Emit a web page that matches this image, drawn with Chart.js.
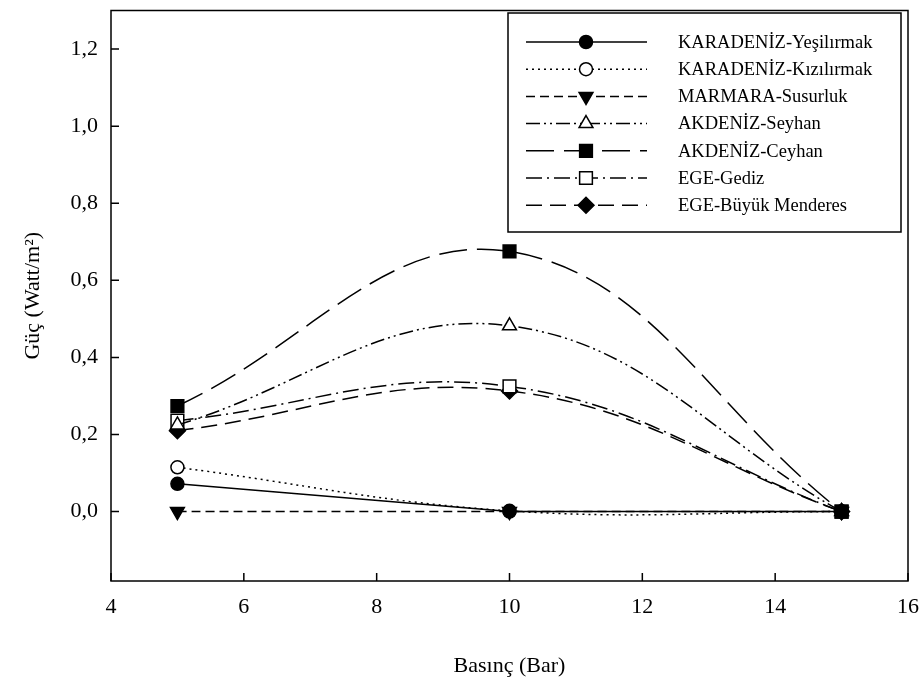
<!DOCTYPE html>
<html>
<head>
<meta charset="utf-8">
<script src="https://cdn.jsdelivr.net/npm/chart.js@4/dist/chart.umd.min.js"></script>
<style>
  body { margin: 0; background: #fff; }
  #wrap { width: 923px; height: 684px; }
</style>
</head>
<body>
<div id="wrap"><canvas id="grafico" width="923" height="684"></canvas></div>
<script>
// basinc (bar) ve guc degerleri
const basinc = [5, 10, 15]
const seriesNames = [
  "KARADENİZ-Yeşilırmak",
  "KARADENİZ-Kızılırmak",
  "MARMARA-Susurluk",
  "AKDENİZ-Seyhan",
  "AKDENİZ-Ceyhan",
  "EGE-Gediz",
  "EGE-Büyük Menderes"
]
const yesilirmak = [0.072, 0, 0]
const kizilirmak = [0.115, 0.002, 0]
const susurluk = [0, 0, 0]
const seyhan = [0.225, 0.482, 0]
const ceyhan = [0.274, 0.675, 0]
const gediz = [0.236, 0.325, 0]
const buyukMenderes = [0.21, 0.313, 0]
const xTicks = [4, 6, 8, 10, 12, 14, 16]
const yTicks = [0, 0.2, 0.4, 0.6, 0.8, 1.0, 1.2]

const serif = "'Liberation Serif', 'Times New Roman', serif"
Chart.defaults.font.family = serif
Chart.defaults.font.size = 22
Chart.defaults.color = '#000'

const pts = (arr) => basinc.map((x, i) => ({ x: x, y: arr[i] }))

function serie(label, values, dash, style, rotation, fill, radius, tension) {
  return {
    label: label,
    data: pts(values),
    borderColor: '#000',
    borderWidth: 1.5,
    borderDash: dash,
    tension: tension,
    pointStyle: style,
    pointRotation: rotation,
    pointRadius: radius,
    pointHoverRadius: radius,
    pointBackgroundColor: fill,
    pointBorderColor: '#000',
    pointBorderWidth: 1.5
  }
}

const datasets = [
  serie(seriesNames[0], yesilirmak, [], 'circle', 0, '#000', 6.5, 0),
  serie(seriesNames[1], kizilirmak, [2, 4], 'circle', 0, '#fff', 6.5, 0.4),
  serie(seriesNames[2], susurluk, [9, 5], 'triangle', 180, '#000', 8, 0.4),
  serie(seriesNames[3], seyhan, [14, 4, 2, 4, 2, 4], 'triangle', 0, '#fff', 8, 0.4),
  serie(seriesNames[4], ceyhan, [28, 10], 'rect', 0, '#000', 9, 0.4),
  serie(seriesNames[5], gediz, [16, 5, 2, 5], 'rect', 0, '#fff', 9, 0.4),
  serie(seriesNames[6], buyukMenderes, [16, 8], 'rectRot', 0, '#000', 8, 0.4)
]

// cerceve + iceri bakan tikler
const framePlugin = {
  id: 'frame',
  afterDraw(chart) {
    const { ctx, chartArea: a, scales } = chart
    ctx.save()
    ctx.strokeStyle = '#000'
    ctx.lineWidth = 1.5
    ctx.setLineDash([])
    ctx.strokeRect(a.left, a.top, a.right - a.left, a.bottom - a.top)
    ctx.beginPath()
    scales.x.ticks.forEach(t => {
      const px = scales.x.getPixelForValue(t.value)
      ctx.moveTo(px, a.bottom)
      ctx.lineTo(px, a.bottom - 8)
    })
    scales.y.ticks.forEach(t => {
      const py = scales.y.getPixelForValue(t.value)
      ctx.moveTo(a.left, py)
      ctx.lineTo(a.left + 8, py)
    })
    ctx.stroke()
    ctx.restore()
  }
}

// kutulu lejant
const legendPlugin = {
  id: 'kutuLejant',
  afterDraw(chart) {
    const ctx = chart.ctx
    const box = { x: 508, y: 13, w: 393, h: 219 }
    ctx.save()
    ctx.fillStyle = '#fff'
    ctx.fillRect(box.x, box.y, box.w, box.h)
    ctx.strokeStyle = '#000'
    ctx.lineWidth = 1.5
    ctx.strokeRect(box.x, box.y, box.w, box.h)
    chart.data.datasets.forEach((ds, i) => {
      const y = 42 + i * 27.2
      ctx.setLineDash(ds.borderDash)
      ctx.lineWidth = ds.borderWidth
      ctx.beginPath()
      ctx.moveTo(526, y)
      ctx.lineTo(647, y)
      ctx.stroke()
      ctx.setLineDash([])
      ctx.fillStyle = ds.pointBackgroundColor
      ctx.strokeStyle = '#000'
      Chart.helpers.drawPoint(ctx, {
        pointStyle: ds.pointStyle,
        rotation: ds.pointRotation,
        radius: ds.pointRadius,
        borderWidth: ds.pointBorderWidth
      }, 586, y)
      ctx.fillStyle = '#000'
      ctx.font = '18.5px ' + serif
      ctx.textAlign = 'left'
      ctx.textBaseline = 'middle'
      ctx.fillText(ds.label, 678, y + 1)
    })
    ctx.restore()
  }
}

const config = {
  type: 'line',
  data: { datasets: datasets },
  options: {
    responsive: false,
    animation: false,
    layout: { padding: { top: 3, right: 15, left: 0, bottom: 0 } },
    plugins: {
      legend: { display: false },
      tooltip: { enabled: false }
    },
    scales: {
      x: {
        type: 'linear',
        min: 4,
        max: 16,
        afterBuildTicks: s => { s.ticks = xTicks.map(v => ({ value: v })) },
        afterFit: s => { s.height = 103; s.paddingLeft = 0; s.paddingRight = 0 },
        grid: { display: false, drawTicks: false },
        border: { display: false },
        ticks: { padding: 13 },
        title: { display: true, text: 'Basınç (Bar)', padding: { top: 0, bottom: 5 } }
      },
      y: {
        type: 'linear',
        min: -0.18,
        max: 1.3,
        afterBuildTicks: s => { s.ticks = yTicks.map(v => ({ value: v })) },
        afterFit: s => { s.width = 111; s.paddingTop = 0; s.paddingBottom = 0 },
        grid: { display: false, drawTicks: false },
        border: { display: false },
        ticks: { padding: 13, callback: v => Number(v).toFixed(1).replace('.', ',') },
        title: { display: true, text: 'Güç (Watt/m²)', padding: { top: 20, bottom: 0 } }
      }
    }
  },
  plugins: [framePlugin, legendPlugin]
}

const chart = new Chart(document.getElementById('grafico'), config)
</script>
</body>
</html>
